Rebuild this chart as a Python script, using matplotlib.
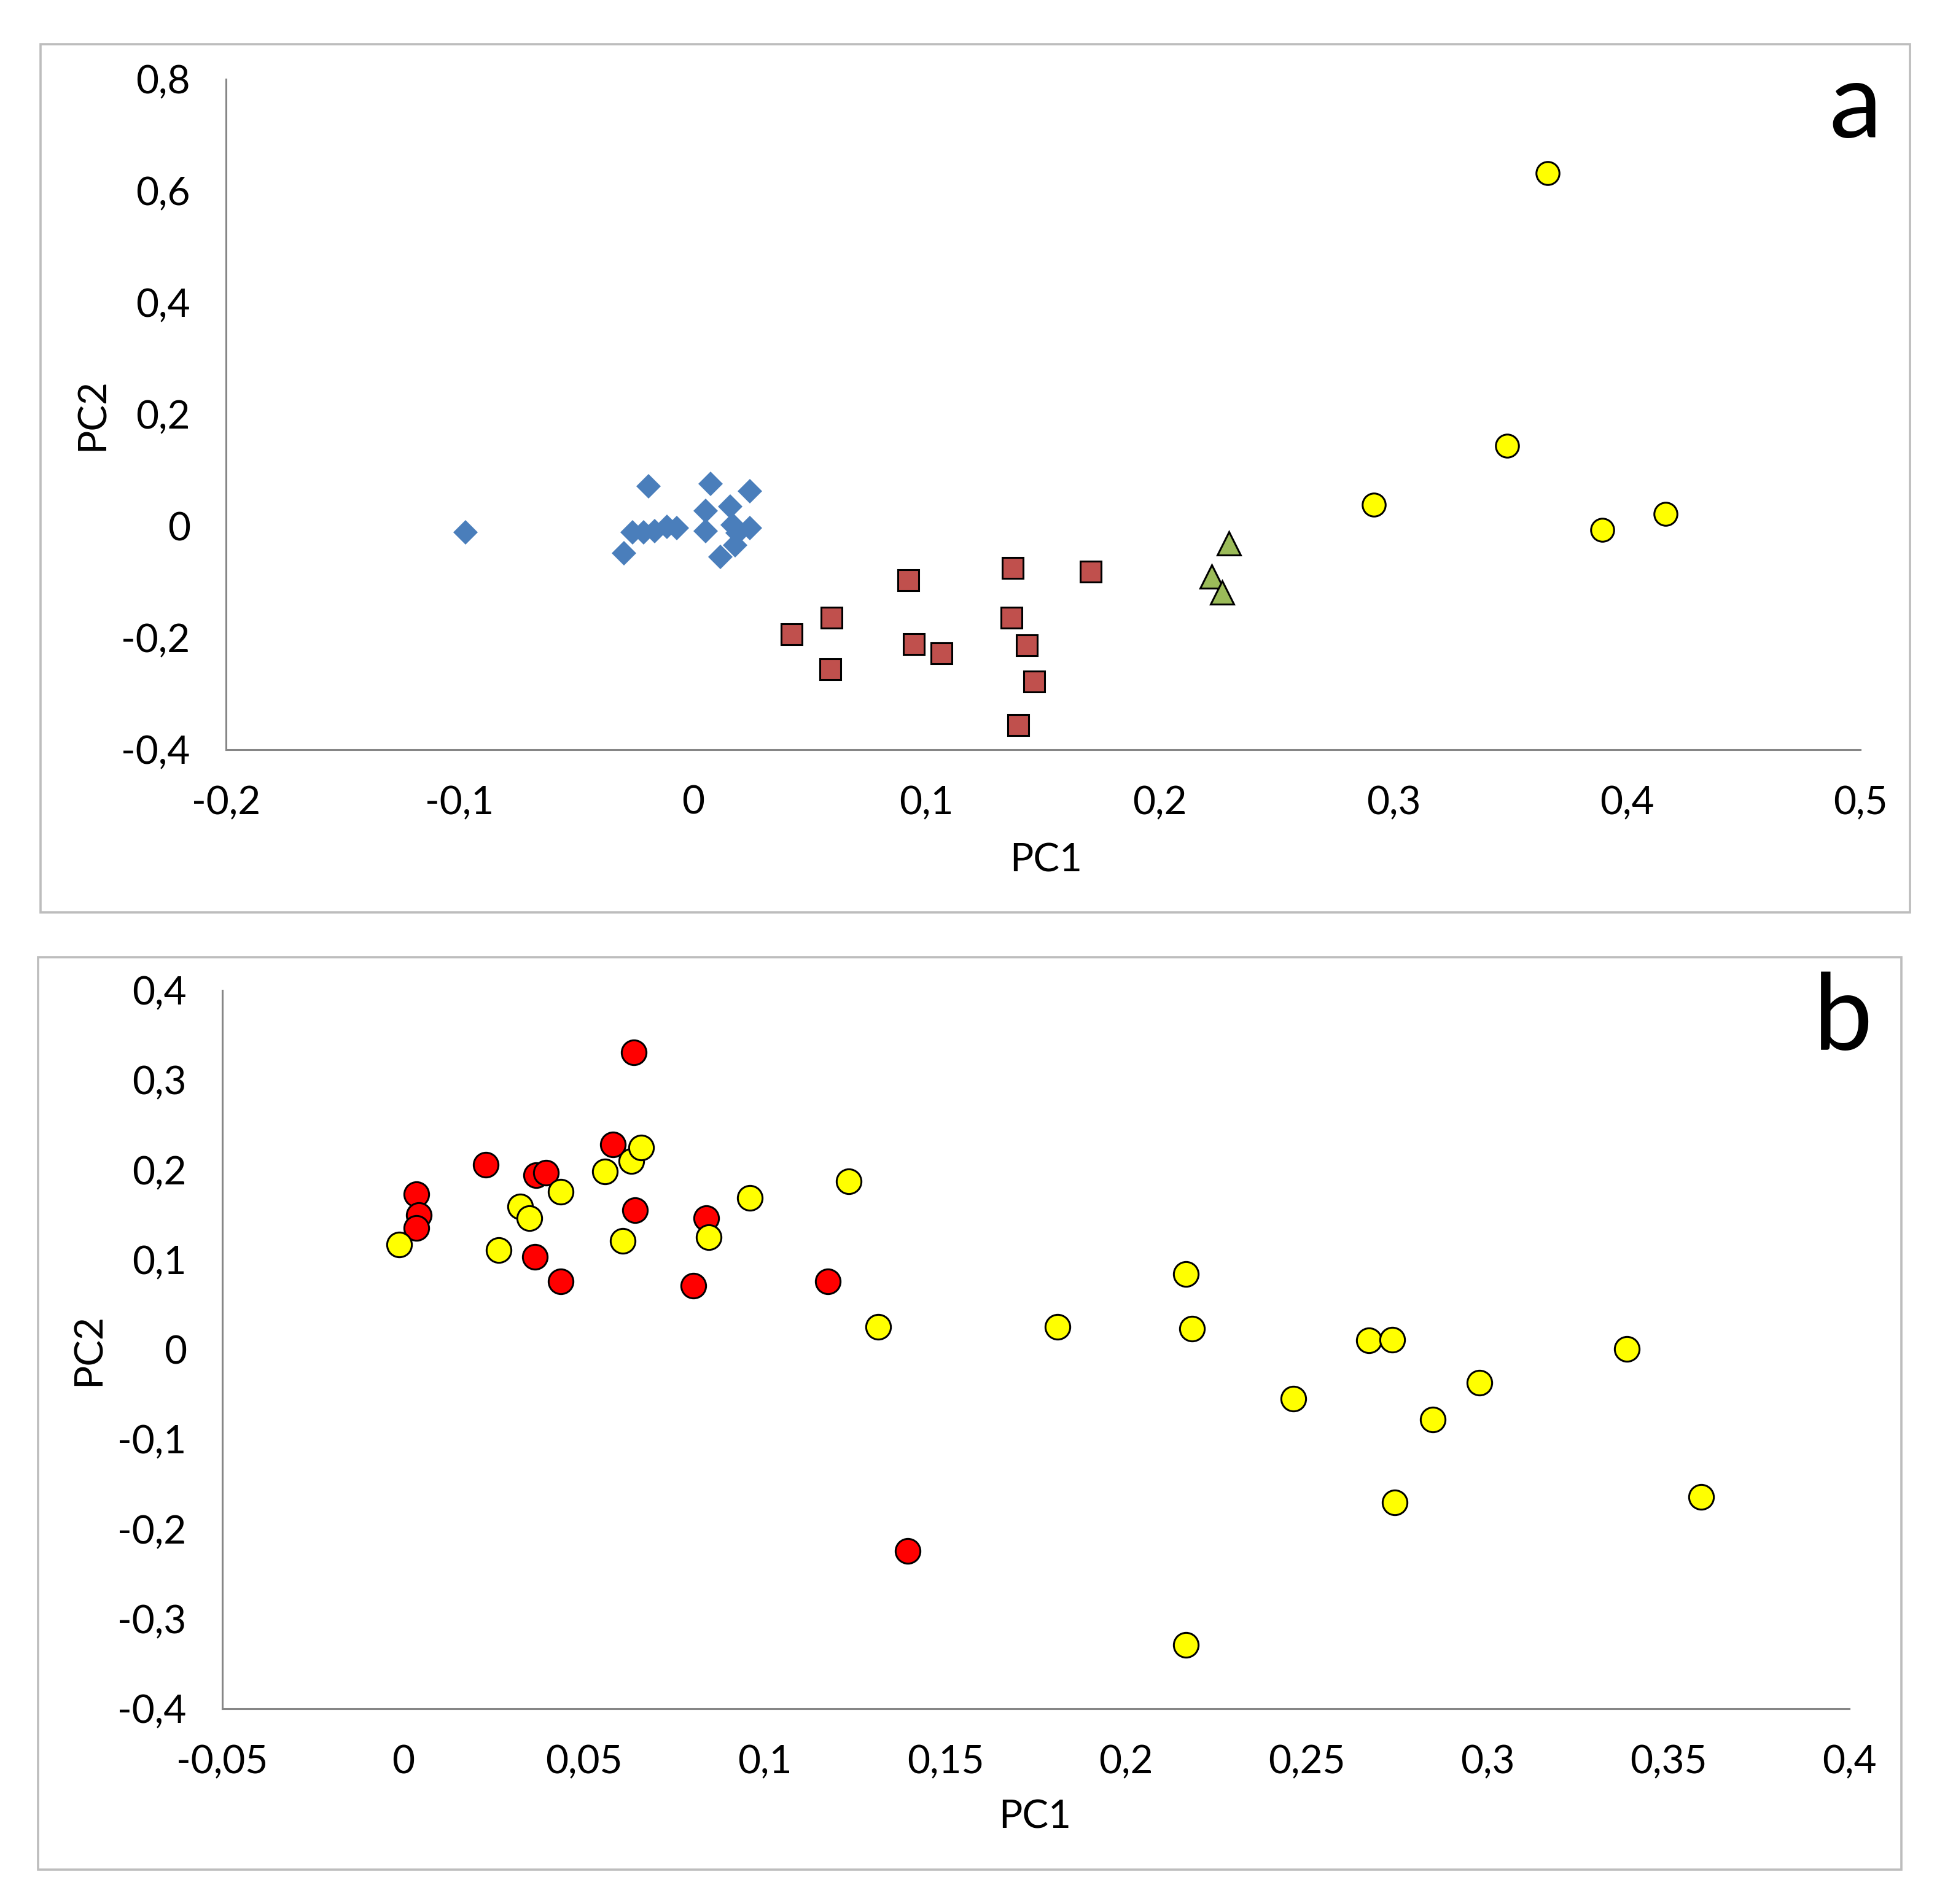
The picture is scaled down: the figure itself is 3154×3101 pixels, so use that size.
"""PCA score plots, panels a and b."""

import matplotlib

matplotlib.use("Agg")
import matplotlib.pyplot as plt
from matplotlib.patches import Rectangle

plt.rcParams["font.family"] = ["Lato", "DejaVu Sans"]

# ---- panel a data ----
a_blue_pc1 = [-0.0974, -0.019, 0.0074, 0.0243, -0.0296, -0.0259, -0.0212, -0.0164,
              -0.0111, -0.0069, 0.0053, 0.0053, 0.0159, 0.0169, 0.0243, 0.0116,
              0.018, 0.019]
a_blue_pc2 = [-0.011, 0.071, 0.075, 0.062, -0.049, -0.011, -0.011, -0.009,
              -0.002, -0.004, 0.027, -0.009, 0.035, 0.002, -0.004, -0.055,
              -0.035, -0.012]
a_red_pc1 = [0.0423, 0.0593, 0.0587, 0.0921, 0.0947, 0.1063, 0.137, 0.1704,
             0.1365, 0.1429, 0.146, 0.1392]
a_red_pc2 = [-0.194, -0.164, -0.256, -0.097, -0.212, -0.228, -0.075, -0.082,
             -0.164, -0.214, -0.278, -0.356]
a_green_pc1 = [0.2296, 0.2222, 0.2265]
a_green_pc2 = [-0.031, -0.091, -0.119]
a_yellow_pc1 = [0.366, 0.3487, 0.2915, 0.3894, 0.4164]
a_yellow_pc2 = [0.632, 0.144, 0.038, -0.007, 0.022]

a_xticks = [-0.2, -0.1, 0, 0.1, 0.2, 0.3, 0.4, 0.5]
a_xlabels = ["-0,2", "-0,1", "0", "0,1", "0,2", "0,3", "0,4", "0,5"]
a_yticks = [-0.4, -0.2, 0, 0.2, 0.4, 0.6, 0.8]
a_ylabels = ["-0,4", "-0,2", "0", "0,2", "0,4", "0,6", "0,8"]

# ---- panel b data ----
b_red_pc1 = [0.0638, 0.0228, 0.0036, 0.0043, 0.0036, 0.0368, 0.0395, 0.058,
             0.0641, 0.0364, 0.0436, 0.0839, 0.0802, 0.1174, 0.1396]
b_red_pc2 = [0.331, 0.206, 0.173, 0.150, 0.135, 0.194, 0.197, 0.228,
             0.155, 0.103, 0.076, 0.146, 0.071, 0.076, -0.224]
b_yellow_pc1 = [-0.0011, 0.0265, 0.0323, 0.035, 0.0436, 0.0559, 0.0631, 0.0658,
                0.0607, 0.0846, 0.0959, 0.1232, 0.1314, 0.181, 0.2165, 0.2182,
                0.2462, 0.2671, 0.2736, 0.2848, 0.2978, 0.3385, 0.359, 0.2743,
                0.2165]
b_yellow_pc2 = [0.117, 0.111, 0.159, 0.146, 0.176, 0.198, 0.210, 0.225,
                0.121, 0.125, 0.169, 0.187, 0.025, 0.025, 0.084, 0.023,
                -0.055, 0.010, 0.011, -0.078, -0.037, 0.001, -0.164, -0.170,
                -0.329]

b_xticks = [-0.05, 0, 0.05, 0.1, 0.15, 0.2, 0.25, 0.3, 0.35, 0.4]
b_xlabels = ["-0,05", "0", "0,05", "0,1", "0,15", "0,2", "0,25", "0,3", "0,35", "0,4"]
b_yticks = [-0.4, -0.3, -0.2, -0.1, 0, 0.1, 0.2, 0.3, 0.4]
b_ylabels = ["-0,4", "-0,3", "-0,2", "-0,1", "0", "0,1", "0,2", "0,3", "0,4"]

AXIS_GREY = "#868686"
BORDER_GREY = "#bdbdbd"
TICK_FS = 23
LABEL_FS = 23


def style_axes(ax, xticks, xlabels, yticks, ylabels):
    for side in ("top", "right"):
        ax.spines[side].set_visible(False)
    for side in ("left", "bottom"):
        ax.spines[side].set_color(AXIS_GREY)
        ax.spines[side].set_linewidth(1.1)
    ax.set_xticks(xticks, xlabels)
    ax.set_yticks(yticks, ylabels)
    ax.set_xlim(xticks[0], xticks[-1])
    ax.set_ylim(yticks[0], yticks[-1])
    ax.tick_params(axis="both", length=0, labelsize=TICK_FS, colors="black")
    ax.tick_params(axis="x", pad=21)
    ax.tick_params(axis="y", pad=21)
    ax.patch.set_alpha(0)


fig = plt.figure(figsize=(15.77, 15.505), dpi=200)

# chart-area borders
fig.patches.append(Rectangle((0.021, 0.5208), 0.965, 0.4559, transform=fig.transFigure,
                             fill=False, edgecolor=BORDER_GREY, linewidth=1.3))
fig.patches.append(Rectangle((0.0198, 0.0182), 0.9617, 0.4792, transform=fig.transFigure,
                             fill=False, edgecolor=BORDER_GREY, linewidth=1.3))

# panel a
ax_a = fig.add_axes([0.1167, 0.6064, 0.9605 - 0.1167, 0.9585 - 0.6064])
style_axes(ax_a, a_xticks, a_xlabels, a_yticks, a_ylabels)
ax_a.plot(a_blue_pc1, a_blue_pc2, linestyle="none", marker="D", markersize=10,
          color="#4a7ebb", markeredgewidth=0, clip_on=False)
ax_a.plot(a_red_pc1, a_red_pc2, linestyle="none", marker="s", markersize=12,
          markerfacecolor="#c0504d", markeredgecolor="black", markeredgewidth=1.1,
          clip_on=False)
ax_a.plot(a_green_pc1, a_green_pc2, linestyle="none", marker="^", markersize=14,
          markerfacecolor="#9bbb59", markeredgecolor="black", markeredgewidth=1.1,
          clip_on=False)
ax_a.plot(a_yellow_pc1, a_yellow_pc2, linestyle="none", marker="o", markersize=13.5,
          markerfacecolor="#ffff00", markeredgecolor="black", markeredgewidth=1.1,
          clip_on=False)
ax_a.set_xlabel("PC1", fontsize=LABEL_FS)
ax_a.set_ylabel("PC2", fontsize=LABEL_FS)
ax_a.xaxis.label.set_va("center")
ax_a.yaxis.label.set_va("center")
ax_a.xaxis.set_label_coords(0.5015, -0.166)
ax_a.yaxis.set_label_coords(-0.0816, 0.5)

# panel b
ax_b = fig.add_axes([0.1148, 0.1025, 0.9547 - 0.1148, 0.4799 - 0.1025])
style_axes(ax_b, b_xticks, b_xlabels, b_yticks, b_ylabels)
ax_b.plot(b_red_pc1, b_red_pc2, linestyle="none", marker="o", markersize=14.5,
          markerfacecolor="#ff0000", markeredgecolor="black", markeredgewidth=1.1,
          clip_on=False)
ax_b.plot(b_yellow_pc1, b_yellow_pc2, linestyle="none", marker="o", markersize=14.5,
          markerfacecolor="#ffff00", markeredgecolor="black", markeredgewidth=1.1,
          clip_on=False)
ax_b.set_xlabel("PC1", fontsize=LABEL_FS)
ax_b.set_ylabel("PC2", fontsize=LABEL_FS)
ax_b.xaxis.label.set_va("center")
ax_b.yaxis.label.set_va("center")
ax_b.xaxis.set_label_coords(0.4996, -0.151)
ax_b.yaxis.set_label_coords(-0.082, 0.5)

fig.text(0.958, 0.9436, "a", fontsize=62, ha="center", va="center")
fig.text(0.9515, 0.4643, "b", fontsize=62, ha="center", va="center")

fig.savefig("out.png", dpi=200, facecolor="white")
